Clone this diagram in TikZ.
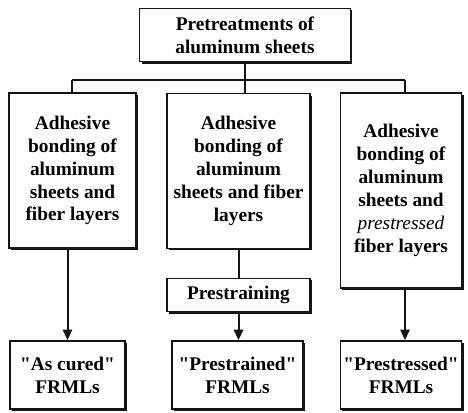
\documentclass[tikz,border=0pt]{standalone}
\usepackage{fontspec}
\setmainfont{Liberation Serif}
\usetikzlibrary{arrows.meta,calc,positioning,shadows}
\definecolor{boxline}{RGB}{20,20,20}

\begin{document}
\begin{tikzpicture}[>={Triangle[length=8pt,width=7pt]},x=0.75pt,y=-0.75pt,line cap=butt,line join=miter,
  every node/.style={font=\fontsize{14.5}{17.2}\selectfont\bfseries,align=center},
  flowbox/.style={draw=boxline,line width=1.2pt,fill=white,inner sep=2pt,
    drop shadow={shadow xshift=1.4pt,shadow yshift=-1.4pt,fill=boxline,opacity=1}},
  link/.style={draw=boxline,line width=1.5pt}]
% Obróbka blach, klejenie warstw i trzy rodzaje laminatów FRML.
\useasboundingbox (0,0) rectangle (468,413);
\node[flowbox,minimum width=158pt,minimum height=40pt] (pre) at (245,35)
 {Pretreatments of\\aluminum sheets};
\node[flowbox,minimum width=95pt,minimum height=116pt] (bondL) at (72.5,170.5)
 {Adhesive\\bonding of\\aluminum\\sheets and\\fiber layers};
\node[flowbox,minimum width=107pt,minimum height=116pt] (bondM) at (238.5,171)
 {Adhesive\\bonding of\\aluminum\\sheets and fiber\\layers};
\node[flowbox,minimum width=91pt,minimum height=146pt] (bondR) at (401,190.5)
 {Adhesive\\bonding of\\aluminum\\sheets and\\{\mdseries\itshape prestressed}\\fiber layers};
\node[flowbox,minimum width=107pt,minimum height=25pt] (strain) at (238.5,295)
 {Prestraining};
\node[flowbox,minimum width=86pt,minimum height=51pt] (resL) at (67.5,375)
 {\textquotedbl As cured\textquotedbl\\FRMLs};
\node[flowbox,minimum width=98pt,minimum height=51pt] (resM) at (237.5,375)
 {\textquotedbl Prestrained\textquotedbl\\FRMLs};
\node[flowbox,minimum width=91pt,minimum height=51pt] (resR) at (401,375)
 {\textquotedbl Prestressed\textquotedbl\\FRMLs};
\coordinate (split) at (245,80);
\coordinate (dropL) at (72,80);
\coordinate (dropR) at (405,80);
\draw[link] (pre.south -| split) -- (split);
\draw[link] (dropL) -- (dropR);
\draw[link] (dropL) -- (dropL |- bondL.north);
\draw[link] (split) -- (split |- bondM.north);
\draw[link] (dropR) -- (dropR |- bondR.north);
\draw[link,->] (bondL.south -| resL) -- (resL.north);
\draw[link] (bondM.south) -- (strain.north);
\draw[link,->] (strain.south) -- (strain.south |- resM.north);
\draw[link,->] (bondR.south -| dropR) -- (dropR |- resR.north);
\end{tikzpicture}
\end{document}
